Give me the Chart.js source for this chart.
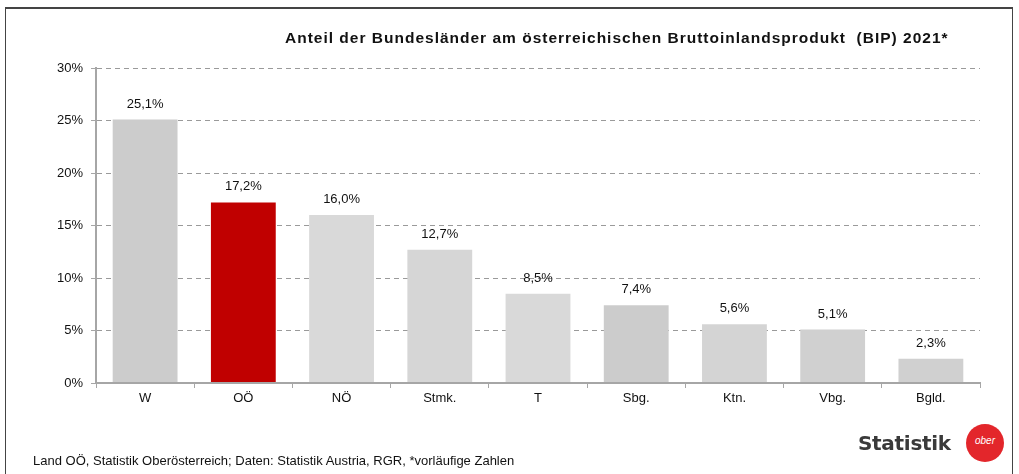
<!DOCTYPE html>
<html>
<head>
<meta charset="utf-8">
<script src="https://cdn.jsdelivr.net/npm/chart.js@4.4.1/dist/chart.umd.min.js"></script>
<style>
  html, body { margin: 0; padding: 0; background: #fff; }
  body { width: 1019px; height: 474px; position: relative; overflow: hidden; font-family: 'Liberation Sans', Arial, sans-serif; }
  #frame { position: absolute; left: 5px; top: 7px; width: 1006px; height: 520px; border: 1px solid #444; border-top-width: 2px; }
  #chart { position: absolute; left: 0; top: 0; }
  #title { position: absolute; left: 285px; top: 29px; font-size: 15.5px; font-weight: bold; color: #111; white-space: nowrap; letter-spacing: 1px; }
  #source { position: absolute; left: 33px; top: 453px; font-size: 13px; color: #111; white-space: nowrap; }
  #logo { position: absolute; left: 858px; top: 431px; font-size: 20px; font-weight: bold; color: #3a3a3a; font-family: 'DejaVu Sans', sans-serif; letter-spacing: -0.3px; }
  #badge { position: absolute; left: 966px; top: 424px; width: 38px; height: 38px; border-radius: 50%; background: #e3262b; color: #fff; font-size: 10px; text-align: center; line-height: 34px; font-style: italic; }
</style>
</head>
<body>
<div id="frame"></div>
<canvas id="chart" width="1019" height="474"></canvas>
<div id="title">Anteil der Bundesländer am österreichischen Bruttoinlandsprodukt&nbsp; (BIP) 2021*</div>
<div id="source">Land OÖ, Statistik Oberösterreich; Daten: Statistik Austria, RGR, *vorläufige Zahlen</div>
<div id="logo">Statistik</div>
<div id="badge">ober</div>
<script>
const regions = ['W', 'OÖ', 'NÖ', 'Stmk.', 'T', 'Sbg.', 'Ktn.', 'Vbg.', 'Bgld.']
const shares = [25.1, 17.2, 16.0, 12.7, 8.5, 7.4, 5.6, 5.1, 2.3]
const yTicks = [0, 5, 10, 15, 20, 25, 30]
const highlight = 'OÖ'

const grays = ['#cccccc', '#c00000', '#d9d9d9', '#d6d6d6', '#d9d9d9', '#cccccc', '#d4d4d4', '#d0d0d0', '#d0d0d0']

const fmt = v => v.toFixed(1).replace('.', ',') + '%'

const valueLabels = {
  id: 'valueLabels',
  afterDatasetsDraw(chart) {
    const { ctx } = chart
    const meta = chart.getDatasetMeta(0)
    ctx.save()
    ctx.font = '13px "Liberation Sans", Arial, sans-serif'
    ctx.fillStyle = '#111'
    ctx.textAlign = 'center'
    ctx.textBaseline = 'bottom'
    meta.data.forEach((bar, i) => {
      ctx.fillText(fmt(shares[i]), bar.x, bar.y - 9)
    })
    ctx.restore()
  }
}

new Chart(document.getElementById('chart'), {
  type: 'bar',
  data: {
    labels: regions,
    datasets: [{
      data: shares,
      backgroundColor: regions.map((r, i) => r === highlight ? '#c00000' : grays[i]),
      categoryPercentage: 1,
      barPercentage: 0.66
    }]
  },
  options: {
    responsive: false,
    animation: false,
    devicePixelRatio: 1,
    layout: { padding: { top: 68, right: 39, bottom: 0, left: 0 } },
    plugins: {
      legend: { display: false },
      tooltip: { enabled: false }
    },
    scales: {
      x: {
        afterFit(scale) { scale.height = 91 },
        grid: {
          display: true,
          drawOnChartArea: false,
          drawTicks: true,
          tickLength: 5,
          tickColor: '#a6a6a6',
          tickWidth: 1,
          offset: true
        },
        border: { display: true, color: '#a6a6a6', width: 2, z: 1 },
        ticks: {
          color: '#111',
          padding: 3,
          font: { family: '"Liberation Sans", Arial, sans-serif', size: 13 }
        }
      },
      y: {
        min: 0,
        max: 30,
        afterFit(scale) { scale.width = 96 },
        afterBuildTicks(scale) { scale.ticks = yTicks.map(v => ({ value: v })) },
        grid: {
          color: ctx => ctx.tick && ctx.tick.value === 0 ? 'rgba(0,0,0,0)' : '#9a9a9a',
          lineWidth: 1,
          tickLength: 5,
          tickColor: '#a6a6a6',
          drawTicks: true
        },
        border: { display: true, color: '#a6a6a6', width: 2, dash: [5, 4] },
        ticks: {
          color: '#111',
          padding: 8,
          font: { family: '"Liberation Sans", Arial, sans-serif', size: 13 },
          callback: v => v + '%'
        }
      }
    }
  },
  plugins: [valueLabels]
})
</script>
</body>
</html>
